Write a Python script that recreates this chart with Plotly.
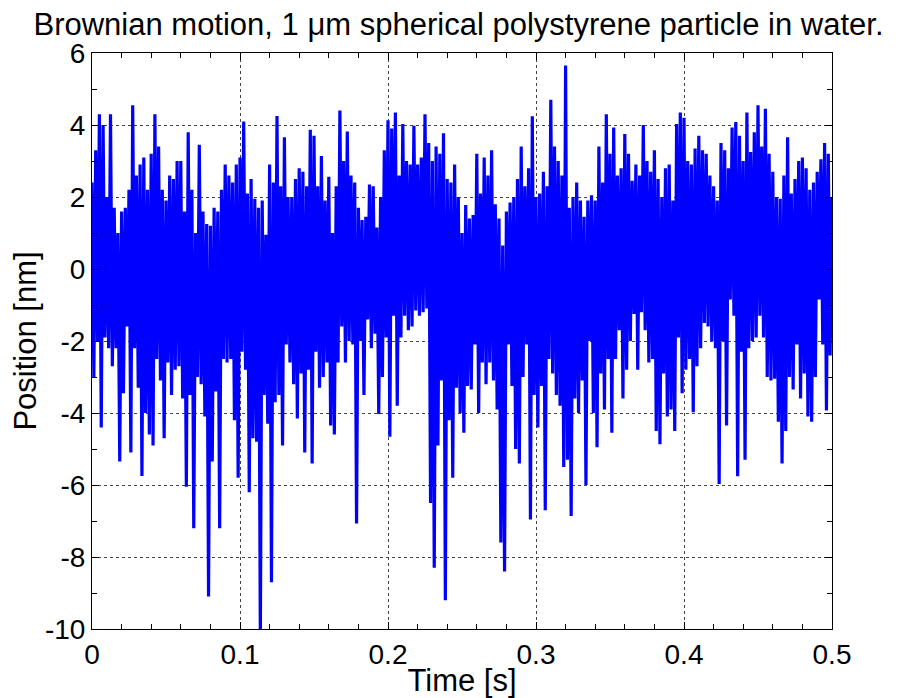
import numpy as np
import plotly.graph_objects as go

# Per-column upper and lower extremes of the trace (nm),
# columns every 0.0025 s.
upper_nm = [
    2.4, 3.3, 4.3, 4.0, 2.0, 4.3, 1.7, 1.0, 1.6, 1.7,
    2.2, 4.55, 2.6, 2.9, 3.1, 2.2, 3.2, 4.3, 3.4, 2.2,
    1.9, 2.6, 2.5, 3.0, 3.0, 1.6, 3.8, 2.2, 1.0, 3.45,
    1.6, 1.25, 1.2, 1.7, 1.6, 2.2, 2.9, 2.6, 2.4, 2.9,
    3.1, 4.1, 2.1, 2.5, 1.95, 1.7, 1.9, 0.95, 2.9, 2.4,
    4.25, 2.3, 3.66, 2.0, 2.0, 2.5, 2.8, 2.7, 2.3, 3.87,
    3.7, 2.3, 3.14, 1.9, 2.56, 1.0, 2.3, 4.4, 3.0, 3.82,
    2.6, 2.4, 1.7, 1.36, 1.45, 2.35, 2.3, 1.15, 2.0, 3.3,
    4.13, 3.9, 4.35, 2.6, 4.03, 3.0, 2.9, 3.98, 2.9, 3.1,
    4.3, 3.5, 3.0, 3.4, 3.2, 3.77, 2.5, 2.4, 2.9, 2.0,
    1.0, 1.78, 1.4, 1.5, 3.2, 2.1, 3.1, 2.6, 3.3, 1.8,
    1.4, 0.65, 1.6, 1.85, 2.0, 2.5, 3.4, 2.3, 2.8, 4.24,
    2.0, 2.1, 2.7, 2.3, 4.7, 3.4, 3.0, 2.6, 5.65, 1.7,
    2.0, 2.4, 1.9, 1.45, 1.9, 2.05, 1.9, 3.4, 2.4, 4.3,
    3.2, 3.93, 2.6, 2.8, 3.75, 3.2, 2.45, 2.9, 2.6, 4.0,
    3.0, 2.7, 3.3, 2.5, 2.0, 2.8, 2.9, 1.9, 4.03, 4.35,
    4.2, 3.0, 2.9, 3.35, 3.7, 3.3, 3.2, 2.6, 2.3, 1.9,
    3.5, 3.3, 2.8, 3.93, 4.08, 3.7, 3.0, 4.35, 3.25, 3.8,
    4.55, 3.4, 4.45, 3.2, 2.7, 2.0, 1.95, 2.6, 3.66, 2.1,
    2.5, 3.0, 3.1, 2.8, 2.2, 2.4, 2.7, 3.05, 3.5, 3.2,
    2.0,
]

lower_nm = [
    -3.0, -2.0, -4.4, -1.9, -2.2, -2.7, -2.2, -5.35, -3.45, -1.6,
    -5.1, -2.2, -3.3, -5.75, -4.0, -4.6, -4.9, -2.5, -3.1, -4.7,
    -2.6, -3.5, -2.8, -2.7, -3.6, -6.05, -3.5, -7.2, -3.0, -3.2,
    -4.1, -9.1, -5.35, -3.4, -7.2, -2.5, -2.6, -2.5, -4.2, -5.8,
    -2.3, -2.8, -6.2, -4.7, -4.8, -10.3, -3.5, -4.3, -8.7, -3.7,
    -3.5, -4.9, -2.1, -2.6, -3.2, -4.15, -2.9, -5.1, -2.8, -5.4,
    -2.3, -3.3, -3.0, -2.6, -4.35, -4.6, -2.6, -1.6, -2.6, -2.0,
    -2.1, -7.07, -2.0, -3.5, -1.4, -2.2, -1.8, -4.03, -3.0, -1.9,
    -4.66, -1.3, -3.8, -1.9, -1.3, -1.7, -1.6, -1.15, -1.3, -1.2,
    -1.1, -6.5, -8.3, -4.9, -3.1, -9.2, -4.2, -5.8, -3.3, -4.0,
    -4.55, -3.25, -3.35, -2.1, -4.0, -2.6, -3.2, -2.6, -3.1, -3.9,
    -7.6, -8.4, -2.1, -3.25, -5.0, -5.4, -3.0, -2.1, -6.96, -3.5,
    -4.4, -3.25, -6.7, -2.5, -2.9, -3.5, -3.8, -5.5, -5.3, -6.86,
    -3.6, -4.0, -3.1, -6.0, -2.0, -4.0, -4.95, -2.9, -3.9, -2.5,
    -4.55, -2.5, -1.7, -3.6, -2.8, -2.0, -1.25, -2.8, -1.2, -1.7,
    -2.6, -2.5, -4.5, -4.87, -2.9, -4.1, -3.9, -4.5, -1.9, -3.45,
    -2.8, -2.5, -3.98, -2.7, -2.2, -1.5, -1.6, -2.0, -2.2, -5.97,
    -2.0, -4.35, -0.85, -1.3, -5.76, -2.3, -5.3, -2.2, -2.0, -1.9,
    -1.3, -1.9, -3.0, -3.1, -3.05, -4.24, -5.4, -4.5, -3.0, -3.35,
    -2.1, -3.6, -2.9, -4.1, -4.24, -3.0, -0.85, -2.1, -3.93, -2.4,
]

sample_step_s = 0.00125
x_ticks = [0, 0.1, 0.2, 0.3, 0.4, 0.5]
x_tick_text = ["0", "0.1", "0.2", "0.3", "0.4", "0.5"]
y_ticks = [-10, -8, -6, -4, -2, 0, 2, 4, 6]
y_tick_text = ["-10", "-8", "-6", "-4", "-2", "0", "2", "4", "6"]

position = []
for up, lo in zip(upper_nm, lower_nm):
    position += [up, lo]
position.append(upper_nm[-1])
time_s = np.arange(len(position)) * sample_step_s

FONT = "Arial, 'Liberation Sans', sans-serif"

fig = go.Figure()
fig.add_trace(go.Scatter(
    x=time_s, y=position, mode="lines",
    line=dict(color="#0000ff", width=3.2),
    showlegend=False, hoverinfo="skip",
))

axis_common = dict(
    showline=True, linecolor="black", linewidth=1, mirror="allticks",
    ticks="inside", ticklen=7, tickcolor="black", tickwidth=1,
    showgrid=True, gridcolor="#444444", griddash="dot", gridwidth=1,
    zeroline=False, automargin=False,
    tickfont=dict(family=FONT, size=28, color="black"),
)

# The page places the figure 8 px in from the top-left corner; sizes compensate.
fig.update_layout(
    width=901, height=690,
    paper_bgcolor="white", plot_bgcolor="white",
    margin=dict(l=84, r=77, t=45, b=69),
    title=dict(
        text="Brownian motion, 1 \u03bcm spherical polystyrene particle in water.",
        x=0.5, xanchor="center", y=0.977, yanchor="middle",
        font=dict(family=FONT, size=31, color="black"),
    ),
    xaxis=dict(
        range=[0, 0.5], tickvals=x_ticks, ticktext=x_tick_text,
        minor=dict(dtick=0.02, ticks="inside", ticklen=5, tickcolor="black", showgrid=False),
        title=dict(text="Time [s]", font=dict(family=FONT, size=31, color="black"), standoff=0),
        **axis_common,
    ),
    yaxis=dict(
        range=[-10, 6], tickvals=y_ticks, ticktext=y_tick_text,
        minor=dict(dtick=1, ticks="inside", ticklen=5, tickcolor="black", showgrid=False),
        title=dict(text="Position [nm]", font=dict(family=FONT, size=31, color="black"), standoff=0),
        **axis_common,
    ),
)

fig.write_html("out.html")
